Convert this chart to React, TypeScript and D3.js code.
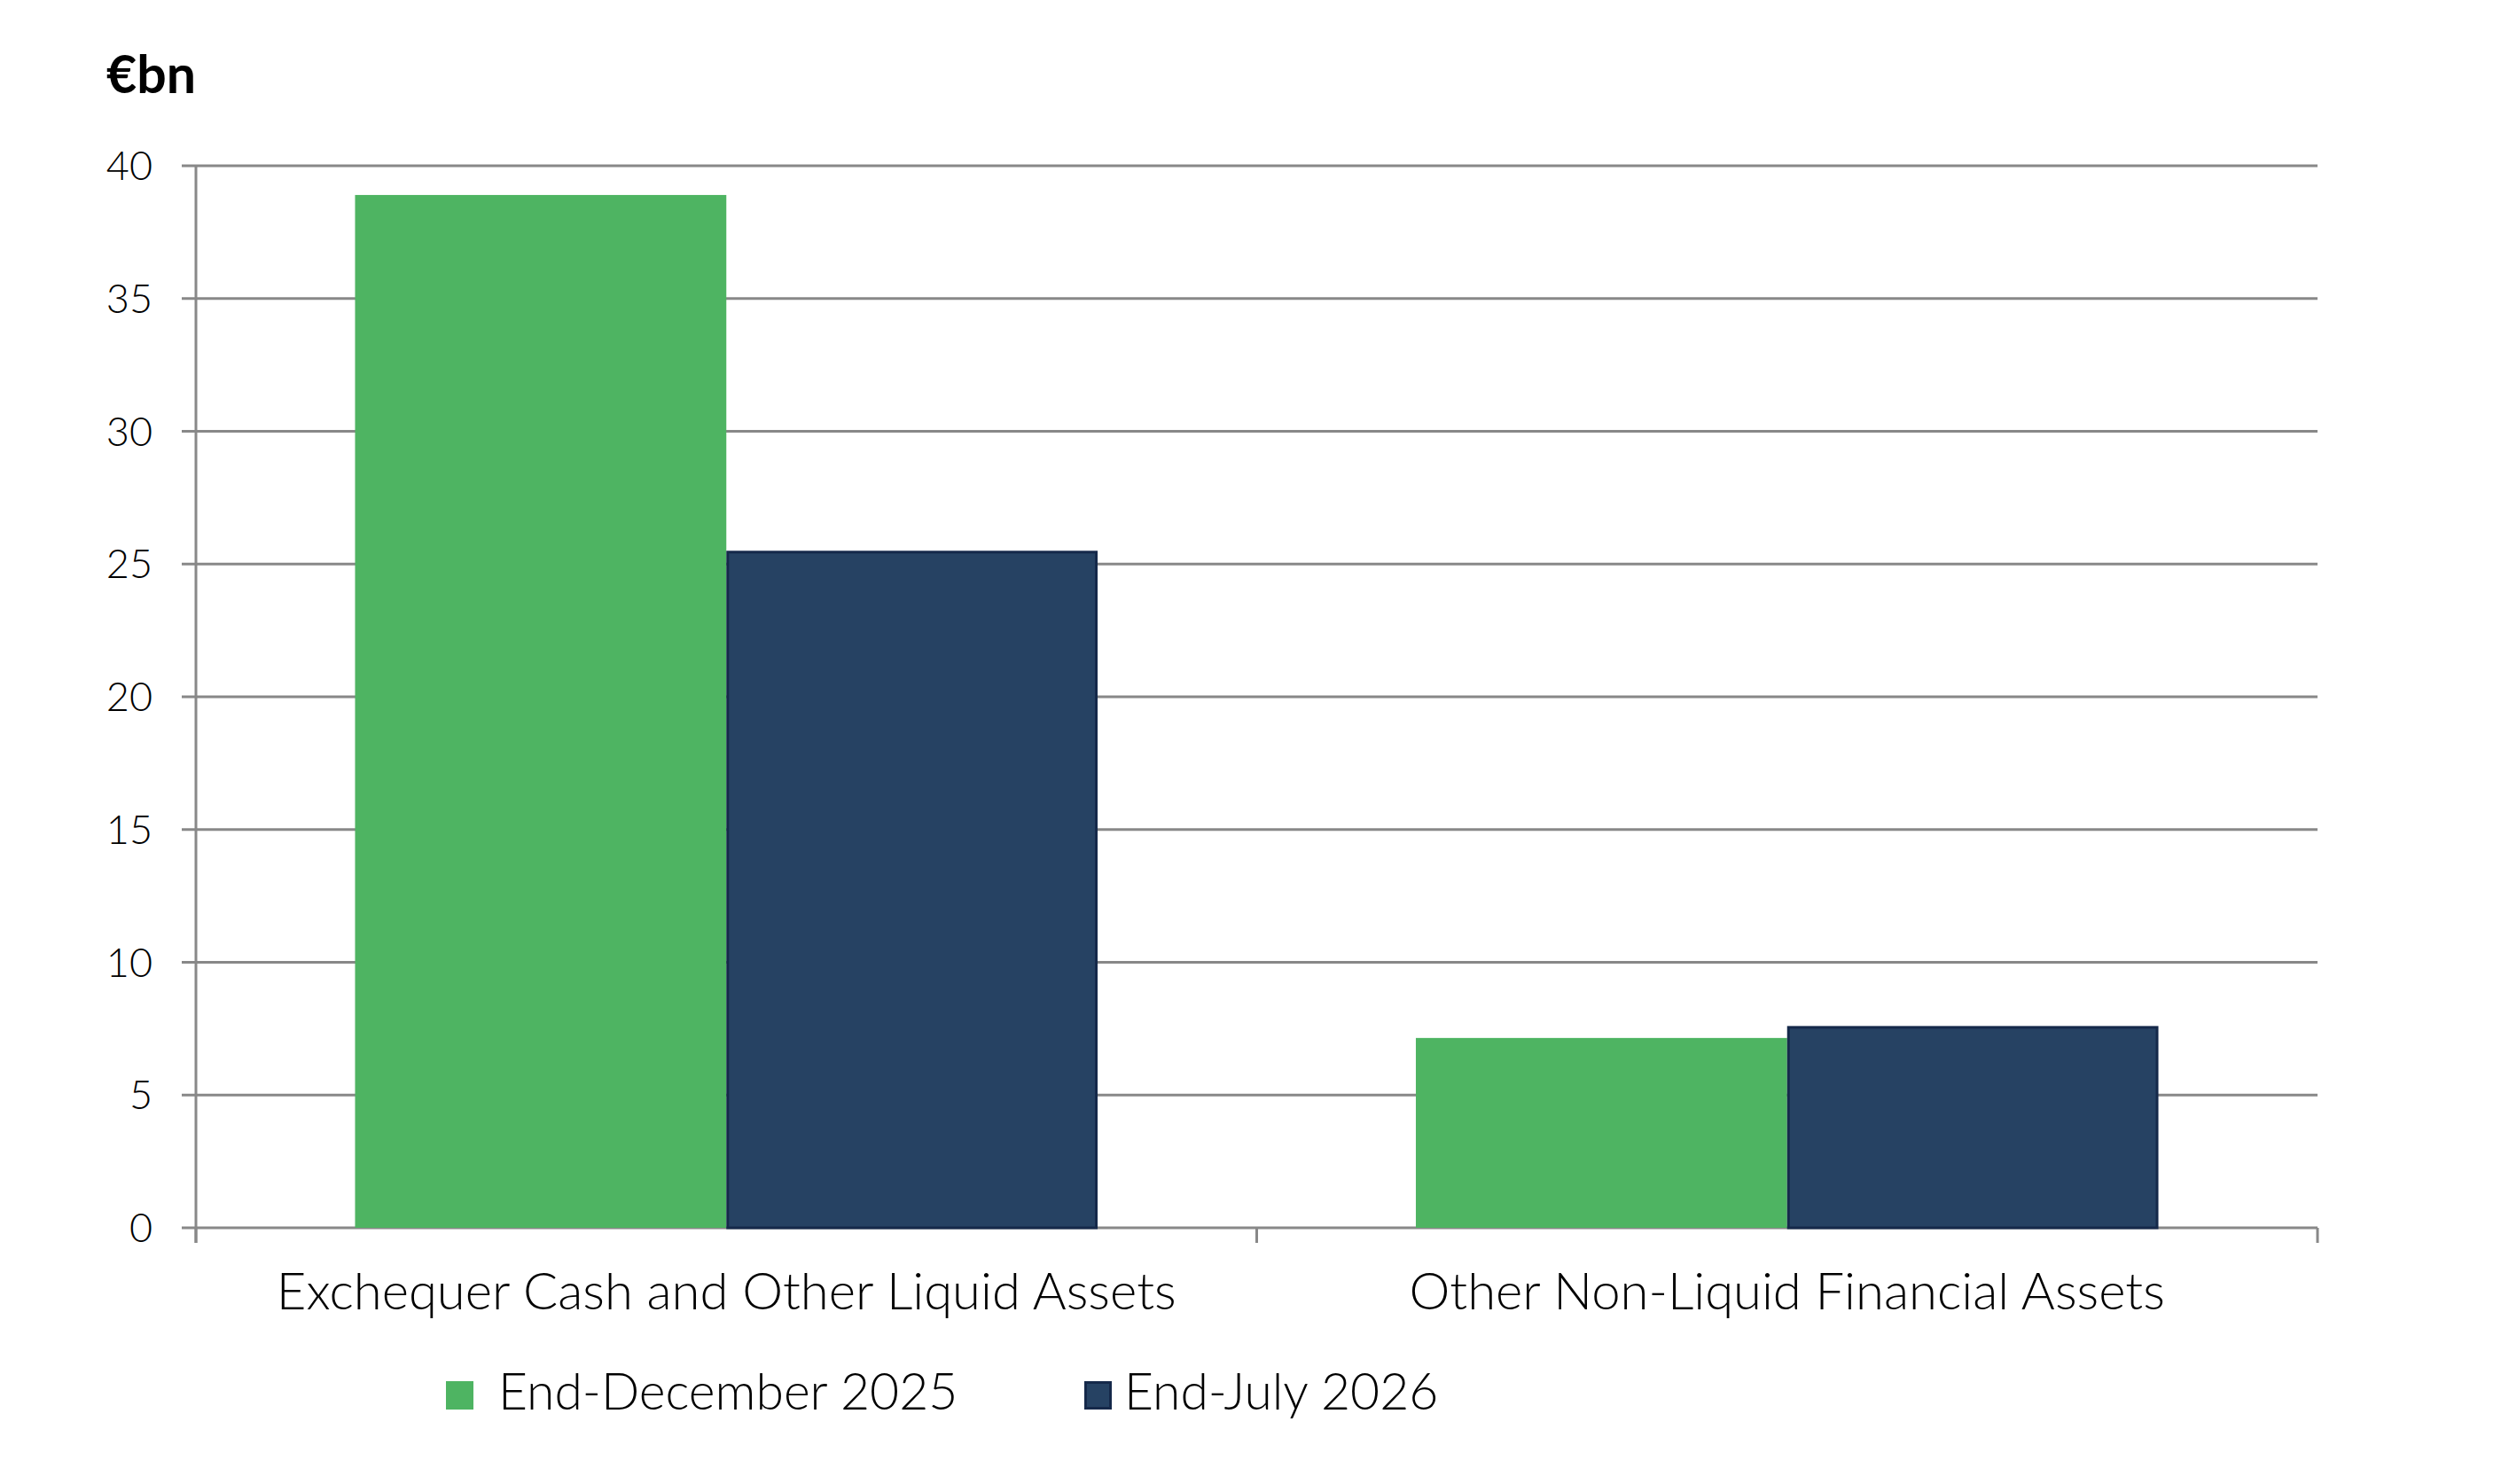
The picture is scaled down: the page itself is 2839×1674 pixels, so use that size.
import React from "react";
import * as d3 from "d3";

// ── Data ──────────────────────────────────────────────────────
const CATEGORIES = [
  "Exchequer Cash and Other Liquid Assets",
  "Other Non-Liquid Financial Assets",
];
const SERIES_NAMES = ["End-December 2025", "End-July 2026"];
const END_DEC_2025 = [38.9, 7.15];
const END_JUL_2026 = [25.5, 7.6];
const Y_TICKS = [0, 5, 10, 15, 20, 25, 30, 35, 40];

// ── Geometry ──────────────────────────────────────────────────
const W = 2839;
const H = 1674;
const M = { left: 221, right: 2614, top: 187, bottom: 1385 };

const GREEN = "#4eb462";
const NAVY = "#264263";
const NAVY_EDGE = "#15294a";
const GRID = "#888888";
const FONT = "Lato, 'Open Sans', sans-serif";

export default function App() {
  const x0 = d3
    .scaleBand<string>()
    .domain(CATEGORIES)
    .range([M.left, M.right])
    .paddingInner(0.3)
    .paddingOuter(0.15);

  const x1 = d3
    .scaleBand<string>()
    .domain(SERIES_NAMES)
    .range([0, x0.bandwidth()]);

  const y = d3.scaleLinear().domain([0, 40]).range([M.bottom, M.top]);

  const seriesVals = [END_DEC_2025, END_JUL_2026];
  const colors = [GREEN, NAVY];

  // category boundaries for the x tick marks
  const step = x0.step();
  const xTicks = d3.range(CATEGORIES.length + 1).map((i) => M.left + i * step);

  return (
    <div style={{ position: "absolute", left: 0, top: 0 }}>
      <svg width={W} height={H} style={{ display: "block", background: "#fff" }}>
        {/* Unit label */}
        <text x={120} y={105} fontFamily={FONT} fontWeight={700} fontSize={59} fill="#000">
          €bn
        </text>

        {/* Gridlines + y tick labels */}
        {Y_TICKS.map((t) => (
          <g key={t}>
            <line
              x1={M.left - 16}
              x2={M.right}
              y1={y(t)}
              y2={y(t)}
              stroke={GRID}
              strokeWidth={3}
            />
            <text
              x={172}
              y={y(t) + 16}
              textAnchor="end"
              fontFamily={FONT}
              fontWeight={300}
              fontSize={45}
              fill="#000"
            >
              {t}
            </text>
          </g>
        ))}

        {/* Y axis line */}
        <line x1={M.left} x2={M.left} y1={M.top} y2={M.bottom + 17} stroke={GRID} strokeWidth={3} />

        {/* X tick marks */}
        {xTicks.map((tx, i) => (
          <line key={i} x1={tx} x2={tx} y1={M.bottom} y2={M.bottom + 17} stroke={GRID} strokeWidth={3} />
        ))}

        {/* Bars */}
        {CATEGORIES.map((c, ci) => (
          <g key={c} transform={`translate(${x0(c)},0)`}>
            {SERIES_NAMES.map((s, si) => {
              const v = seriesVals[si][ci];
              const isNavy = si === 1;
              const inset = isNavy ? 1.5 : 0;
              return (
                <rect
                  key={s}
                  x={(x1(s) as number) + inset}
                  y={y(v) + inset}
                  width={x1.bandwidth() - 2 * inset}
                  height={y(0) - y(v) - 2 * inset + (isNavy ? 1.5 : 0)}
                  fill={colors[si]}
                  stroke={isNavy ? NAVY_EDGE : "none"}
                  strokeWidth={isNavy ? 3 : 0}
                />
              );
            })}
          </g>
        ))}

        {/* Category labels */}
        {CATEGORIES.map((c) => (
          <text
            key={c}
            x={(x0(c) as number) + x0.bandwidth() / 2}
            y={1477}
            textAnchor="middle"
            fontFamily={FONT}
            fontWeight={300}
            fontSize={58}
            fill="#000"
          >
            {c}
          </text>
        ))}

        {/* Legend */}
        {SERIES_NAMES.map((s, i) => {
          const lx = [503, 1223][i];
          return (
            <g key={s}>
              <rect
                x={lx + (i === 1 ? 1.5 : 0)}
                y={1558 + (i === 1 ? 1.5 : 0)}
                width={31 - (i === 1 ? 3 : 0)}
                height={32 - (i === 1 ? 3 : 0)}
                fill={colors[i]}
                stroke={i === 1 ? NAVY_EDGE : "none"}
                strokeWidth={i === 1 ? 3 : 0}
              />
              <text
                x={lx + (i === 0 ? 59 : 45)}
                y={1590}
                fontFamily={FONT}
                fontWeight={300}
                fontSize={57}
                fill="#000"
              >
                {s}
              </text>
            </g>
          );
        })}
      </svg>
    </div>
  );
}
